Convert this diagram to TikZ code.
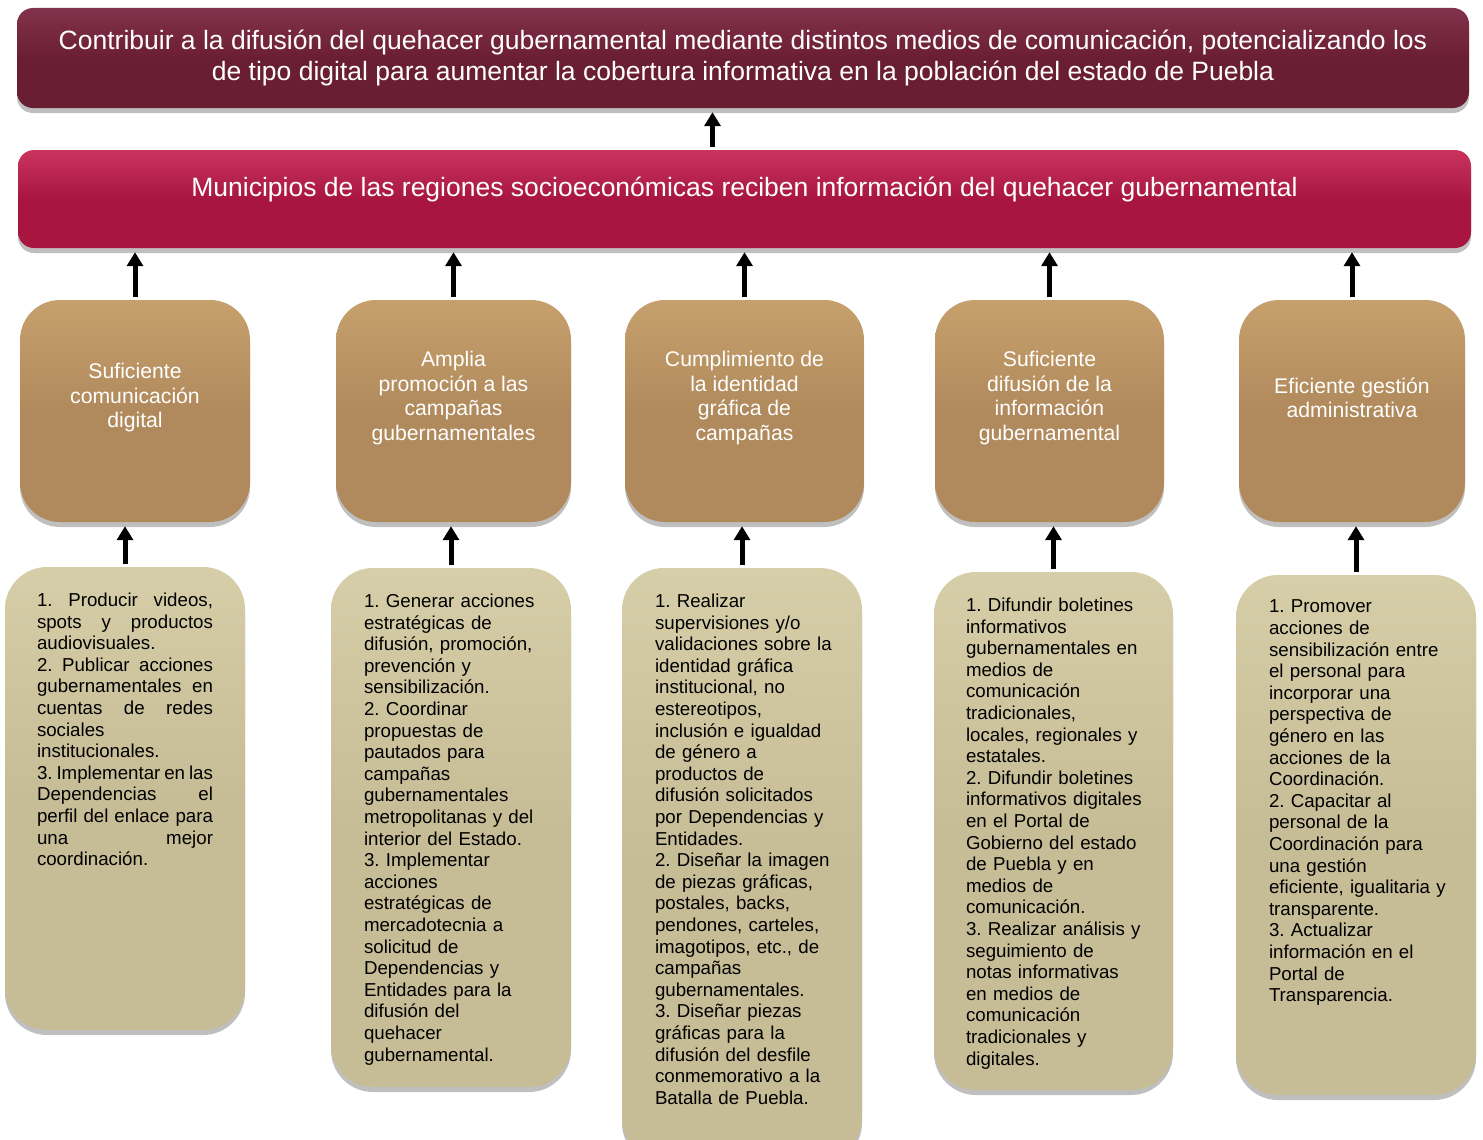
\documentclass[tikz,border=0pt]{standalone}
\usepackage{fontspec}
\setmainfont{Liberation Sans}
\usepackage{xcolor}
\usepackage{tikz}
\usetikzlibrary{arrows.meta, shadows}
\frenchspacing
\hyphenpenalty=10000
\exhyphenpenalty=10000

\definecolor{goalcol}{HTML}{6A1E34}
\definecolor{goaltop}{HTML}{83324C}
\definecolor{purpcol}{HTML}{A8163F}
\definecolor{purptop}{HTML}{C9345F}
\definecolor{compcol}{HTML}{B08A5C}
\definecolor{comptop}{HTML}{C6A06C}
\definecolor{actcol}{HTML}{C6BC96}
\definecolor{acttop}{HTML}{D6CEA8}

\tikzset{
	softshadow/.style={drop shadow={shadow xshift=0pt, shadow yshift=-5pt, opacity=0.25, fill=black}},
	goalbox/.style={rectangle, rounded corners=16pt, inner sep=0pt, softshadow,
		top color=goaltop, bottom color=goalcol, middle color=goalcol,
		text=white, align=center, font=\fontsize{26.5}{31}\selectfont},
	purpbox/.style={rectangle, rounded corners=16pt, inner sep=0pt, softshadow,
		top color=purptop, bottom color=purpcol, middle color=purpcol},
	purptext/.style={inner sep=0pt, text=white, font=\fontsize{26.5}{31}\selectfont},
	compbox/.style={rectangle, rounded corners=40pt, inner sep=0pt, softshadow,
		minimum height=222pt, top color=comptop, bottom color=compcol, middle color=compcol},
	comptext/.style={inner sep=0pt, text=white, align=center, font=\fontsize{21.2}{24.5}\selectfont},
	actbox/.style={rectangle, rounded corners=42pt, inner sep=0pt, softshadow,
		minimum width=240pt, top color=acttop, bottom color=actcol, middle color=actcol},
	acttext/.style={anchor=north west, inner sep=0pt, text width=200pt, align=left,
		font=\fontsize{18.7}{21.6}\selectfont},
	arr/.style={line width=5pt, -{Triangle[width=16pt, length=14pt]}, shorten <=3pt, shorten >=4pt}
}

\begin{document}
\begin{tikzpicture}[x=1pt, y=-1pt]
		%page frame
		\useasboundingbox (0,0) rectangle (1483,1140);
		
		%goal
		\node [goalbox, minimum width=1452pt, minimum height=100pt] (goal) at (743,58)
			{Contribuir a la difusión del quehacer gubernamental mediante distintos medios de comunicación, potencializando los\\de tipo digital para aumentar la cobertura informativa en la población del estado de Puebla};
		
		%purpose
		\node [purpbox, minimum width=1453pt, minimum height=98pt] (purp) at (744.5,199) {};
		\node [purptext] (purptxt) at ([yshift=10pt]purp.center)
			{Municipios de las regiones socioeconómicas reciben información del quehacer gubernamental};
		\coordinate (up) at ([xshift=-32pt]purp.north);
		\draw [arr] (up) -- (up |- goal.south);
		
		%components
		\node [compbox, minimum width=230pt] (comp1) at (135,411) {};
		\node [comptext] (comp1txt) at ([yshift=13pt]comp1.center) {Suficiente\\comunicación\\digital};
			\draw [arr] (comp1.north) -- (comp1.north |- purp.south);
		
		\node [compbox, minimum width=235pt] (comp2) at (453.5,411) {};
		\node [comptext] (comp2txt) at ([yshift=13pt]comp2.center) {Amplia\\promoción a las\\campañas\\gubernamentales};
			\draw [arr] (comp2.north) -- (comp2.north |- purp.south);
		
		\node [compbox, minimum width=239pt] (comp3) at (744.5,411) {};
		\node [comptext] (comp3txt) at ([yshift=13pt]comp3.center) {Cumplimiento de\\la identidad\\gráfica de\\campañas};
			\draw [arr] (comp3.north) -- (comp3.north |- purp.south);
		
		\node [compbox, minimum width=229pt] (comp4) at (1049.5,411) {};
		\node [comptext] (comp4txt) at ([yshift=13pt]comp4.center) {Suficiente\\difusión de la\\información\\gubernamental};
			\draw [arr] (comp4.north) -- (comp4.north |- purp.south);
		
		\node [compbox, minimum width=226pt] (comp5) at (1352,411) {};
		\node [comptext] (comp5txt) at ([yshift=13pt]comp5.center) {Eficiente gestión\\administrativa};
			\draw [arr] (comp5.north) -- (comp5.north |- purp.south);
		
		%activities
		\node [actbox, minimum height=463pt] (act1) at (125,798.5) {};
		\node [acttext, text width=176pt, align=justify] (act1txt) at ([xshift=32pt, yshift=-26pt]act1.north west)
			{1. Producir videos,\linebreak spots y productos\linebreak audiovisuales.\\
			2. Publicar acciones\linebreak gubernamentales en\linebreak cuentas de redes\linebreak sociales\\institucionales.\\
			3. Implementar en las\linebreak Dependencias el\linebreak perfil del enlace para\linebreak una mejor\linebreak coordinación.};
			\draw [arr] (act1.north) -- (act1.north |- comp1.south);
		
		\node [actbox, minimum height=519pt] (act2) at (451,827.5) {};
		\node [acttext] (act2txt) at ([xshift=33pt, yshift=-26pt]act2.north west)
			{1. Generar acciones\\estratégicas de\\difusión, promoción,\\prevención y\\sensibilización.\\
			2. Coordinar\\propuestas de\\pautados para\\campañas\\gubernamentales\\metropolitanas y del\\interior del Estado.\\
			3. Implementar\\acciones\\estratégicas de\\mercadotecnia a\\solicitud de\\Dependencias y\\Entidades para la\\difusión del\\quehacer\\gubernamental.};
			\draw [arr] (act2.north) -- (act2.north |- comp2.south);
		
		\node [actbox, minimum height=592pt] (act3) at (742,864) {};
		\node [acttext] (act3txt) at ([xshift=33pt, yshift=-26pt]act3.north west)
			{1. Realizar\\supervisiones y/o\\validaciones sobre la\\identidad gráfica\\institucional, no\\estereotipos,\\inclusión e igualdad\\de género a\\productos de\\difusión solicitados\\por Dependencias y\\Entidades.\\
			2. Diseñar la imagen\\de piezas gráficas,\\postales, backs,\\pendones, carteles,\\imagotipos, etc., de\\campañas\\gubernamentales.\\
			3. Diseñar piezas\\gráficas para la\\difusión del desfile\\conmemorativo a la\\Batalla de Puebla.};
			\draw [arr] (act3.north) -- (act3.north |- comp3.south);
		
		\node [actbox, minimum width=239pt, minimum height=518pt] (act4) at (1053.5,831) {};
		\node [acttext] (act4txt) at ([xshift=32pt, yshift=-26pt]act4.north west)
			{1. Difundir boletines\\informativos\\gubernamentales en\\medios de\\comunicación\\tradicionales,\\locales, regionales y\\estatales.\\
			2. Difundir boletines\\informativos digitales\\en el Portal de\\Gobierno del estado\\de Puebla y en\\medios de\\comunicación.\\
			3. Realizar análisis y\\seguimiento de\\notas informativas\\en medios de\\comunicación\\tradicionales y\\digitales.};
			\draw [arr] (act4.north) -- (act4.north |- comp4.south);
		
		\node [actbox, minimum height=520pt] (act5) at (1356,835) {};
		\node [acttext] (act5txt) at ([xshift=33pt, yshift=-25pt]act5.north west)
			{1. Promover\\acciones de\\sensibilización entre\\el personal para\\incorporar una\\perspectiva de\\género en las\\acciones de la\\Coordinación.\\
			2. Capacitar al\\personal de la\\Coordinación para\\una gestión\\eficiente, igualitaria y\\transparente.\\
			3. Actualizar\\información en el\\Portal de\\Transparencia.};
			\draw [arr] (act5.north) -- (act5.north |- comp5.south);
	\end{tikzpicture}
\end{document}
